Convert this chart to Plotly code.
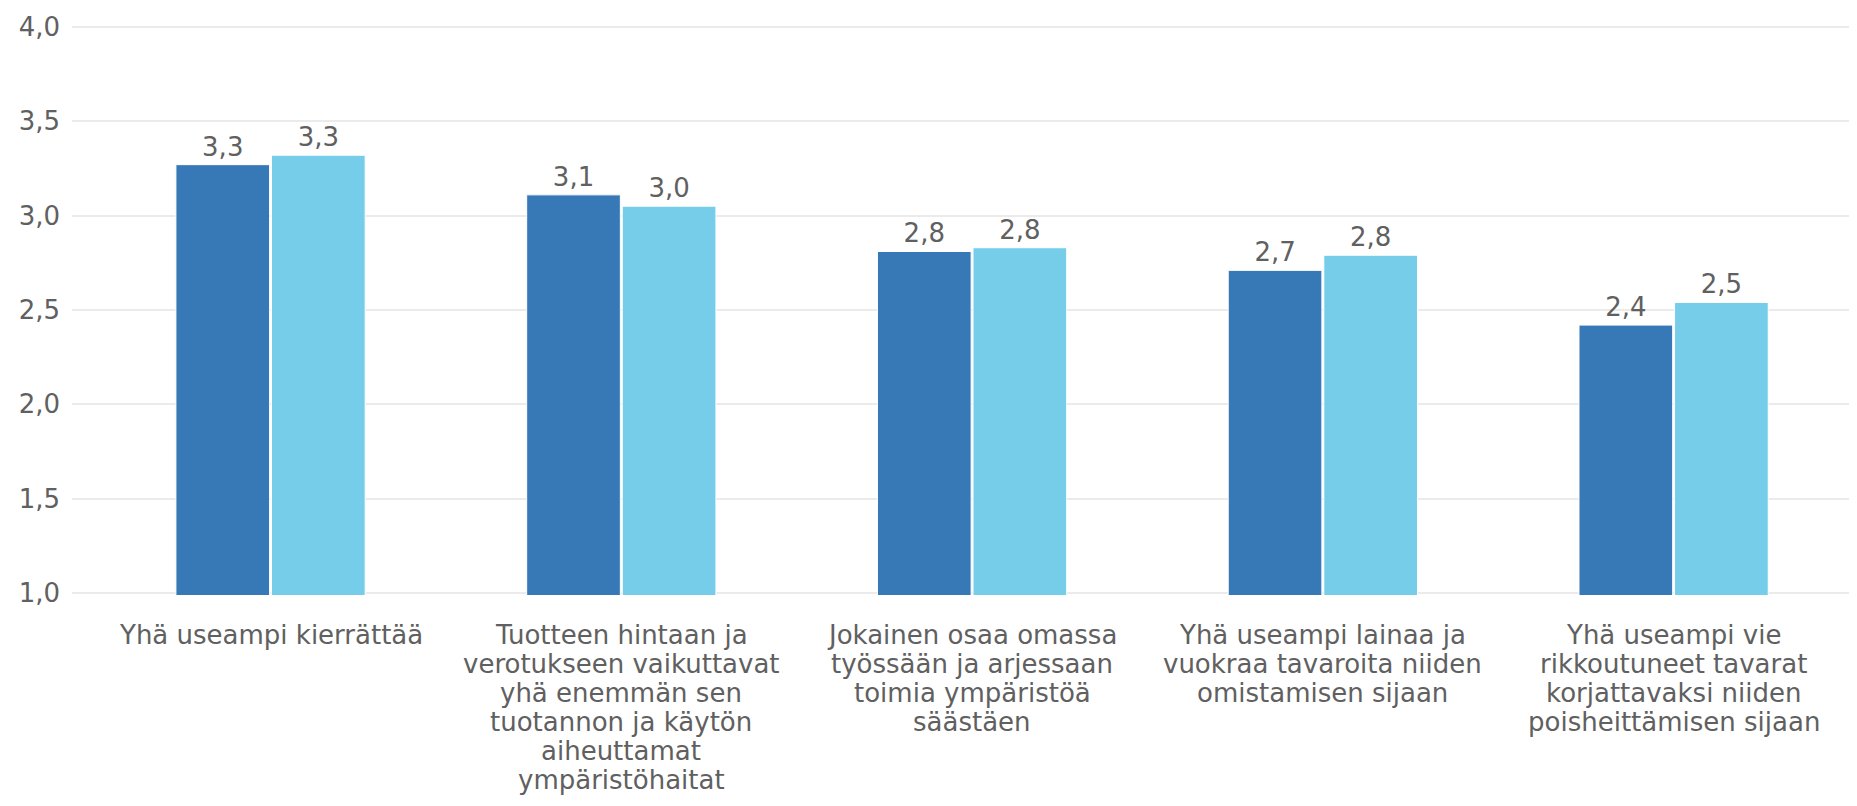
import plotly.graph_objects as go

categories = [
    "Yhä useampi kierrättää",
    "Tuotteen hintaan ja<br>verotukseen vaikuttavat<br>yhä enemmän sen<br>tuotannon ja käytön<br>aiheuttamat<br>ympäristöhaitat",
    "Jokainen osaa omassa<br>työssään ja arjessaan<br>toimia ympäristöä<br>säästäen",
    "Yhä useampi lainaa ja<br>vuokraa tavaroita niiden<br>omistamisen sijaan",
    "Yhä useampi vie<br>rikkoutuneet tavarat<br>korjattavaksi niiden<br>poisheittämisen sijaan",
]
series_a = [3.27, 3.11, 2.81, 2.71, 2.42]
series_b = [3.32, 3.05, 2.83, 2.79, 2.54]
tick_vals = [1.0, 1.5, 2.0, 2.5, 3.0, 3.5, 4.0]

FONT = "DejaVu Sans, Verdana, sans-serif"
GREY = "#606060"
COLOR_A = "#3778b6"
COLOR_B = "#75cdea"


def fmt(v):
    return f"{v:.1f}".replace(".", ",")


fig = go.Figure()
for vals, col in ((series_a, COLOR_A), (series_b, COLOR_B)):
    fig.add_trace(go.Bar(
        x=categories, y=vals,
        marker=dict(color=col, line=dict(color="#ffffff", width=1)),
        text=[fmt(v) for v in vals], textposition="outside",
        textfont=dict(family=FONT, size=26, color=GREY),
        cliponaxis=False, showlegend=False, hoverinfo="x+y",
    ))

# category labels (tight line spacing as in the reference)
LINE_H = 29
annotations = []
for cat in categories:
    for i, line in enumerate(cat.split("<br>")):
        annotations.append(dict(
            x=cat, xref="x", y=0, yref="paper",
            text=line, showarrow=False,
            xanchor="center", yanchor="middle",
            yshift=-40 - i * LINE_H,
            font=dict(family=FONT, size=26, color=GREY),
        ))

fig.update_layout(
    width=1841, height=790,
    margin=dict(l=64, r=0, t=17, b=203, pad=0),
    plot_bgcolor="white", paper_bgcolor="white",
    barmode="group", bargap=0.455, bargroupgap=0.02,
    separators=", ",
    font=dict(family=FONT, color=GREY),
    annotations=annotations,
)
fig.update_xaxes(
    range=[-0.566, 4.5], showgrid=False, showline=False, zeroline=False,
    showticklabels=False, ticks="",
)
fig.update_yaxes(
    range=[0.99, 4.01], tickvals=tick_vals, tickformat=".1f",
    showgrid=True, gridcolor="#ebebeb", gridwidth=2, zeroline=False, showline=False,
    tickfont=dict(family=FONT, size=26, color=GREY),
    ticks="", ticklabelstandoff=11,
)

fig.write_html("out.html")
